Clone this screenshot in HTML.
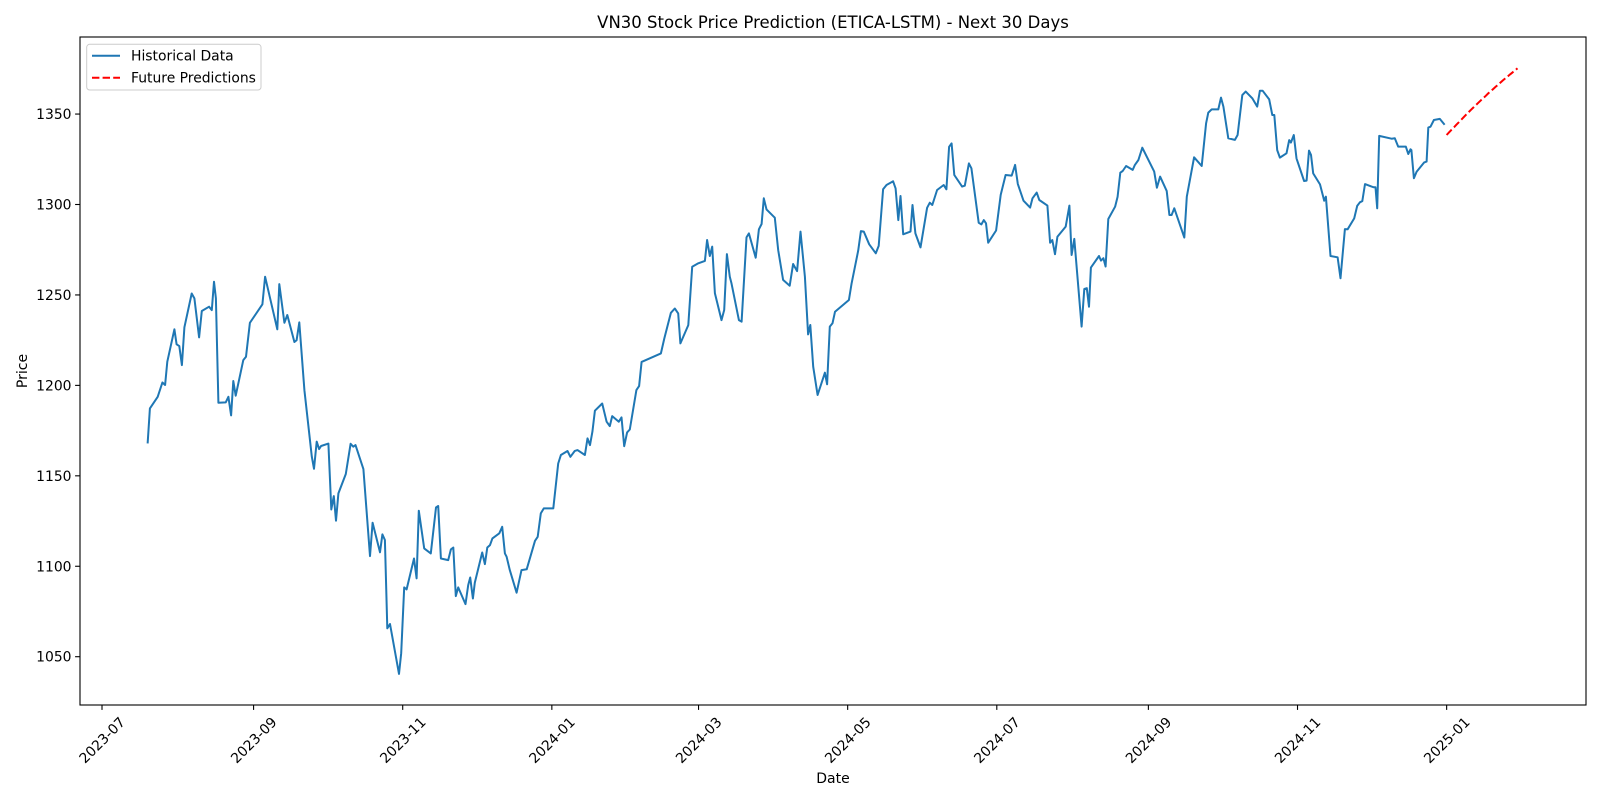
<!DOCTYPE html>
<html><head><meta charset="utf-8"><title>VN30 Stock Price Prediction</title>
<style>
html,body{margin:0;padding:0;background:#fff;}
svg{display:block;font-family:"DejaVu Sans","Liberation Sans",sans-serif;}
</style></head>
<body>
<svg id="chart" width="1600" height="800" viewBox="0 0 1600 800" xmlns="http://www.w3.org/2000/svg">
  <rect x="0" y="0" width="1600" height="800" fill="#fff"/>
  <text x="833" y="28" font-size="16.5" text-anchor="middle" fill="#000">VN30 Stock Price Prediction (ETICA-LSTM) - Next 30 Days</text>
  <g id="plot"></g>
  <rect x="80" y="37" width="1506" height="668" fill="none" stroke="#000" stroke-width="1.1"/>
  <text x="833" y="783" font-size="14" text-anchor="middle">Date</text>
  <text x="27" y="371" font-size="14" text-anchor="middle" transform="rotate(-90 27 371)">Price</text>
  <g>
    <rect x="86.7" y="44.3" width="174.3" height="45.7" rx="3" fill="#fff" fill-opacity="0.8" stroke="#ccc" stroke-width="1"/>
    <line x1="92" y1="55.7" x2="120" y2="55.7" stroke="#1f77b4" stroke-width="2"/>
    <text x="131" y="60.5" font-size="13.9">Historical Data</text>
    <line x1="92" y1="77.7" x2="120" y2="77.7" stroke="#ff0000" stroke-width="2" stroke-dasharray="7.4,3.2"/>
    <text x="131" y="82.5" font-size="13.9">Future Predictions</text>
  </g>
</svg>
<script>
// Days since 2023-07-01
const histDays = [18.7,19.6,22.8,24.7,25.8,26.7,29.6,30.5,31.6,32.7,33.7,36.7,37.8,39.7,40.8,43.8,44.9,45.8,46.6,47.6,50.6,51.7,52.8,53.7,54.7,57.8,58.9,60.5,65.6,66.7,71.7,72.5,74.6,75.8,78.7,79.6,80.7,82.8,85.8,86.7,87.8,88.8,89.6,92.6,93.8,94.8,95.7,96.7,99.7,101.7,102.8,103.7,106.9,109.6,110.7,113.7,114.7,115.7,116.7,117.8,121.5,122.4,123.6,124.6,127.6,128.7,129.6,131.8,134.5,136.6,137.5,138.6,141.6,142.7,143.7,144.7,145.7,148.7,149.8,150.6,151.7,152.5,155.5,156.6,157.6,158.7,159.7,162.5,163.7,164.8,165.5,166.8,169.6,171.6,173.7,177.1,178.2,179.5,180.7,184.6,186.6,187.7,190.4,191.6,193.4,194.5,197.5,198.6,199.6,200.6,201.6,204.6,206.4,207.7,208.7,211.4,212.5,213.6,214.8,215.9,218.6,219.7,220.7,228.6,230.0,232.7,234.3,235.7,236.6,239.8,241.4,243.9,246.6,247.5,248.6,249.6,250.7,253.4,254.5,255.6,256.8,257.5,260.5,261.6,263.6,264.6,267.4,268.7,269.8,270.7,271.8,275.2,276.6,278.6,281.3,282.7,284.3,285.7,287.5,288.8,289.7,290.9,292.7,295.7,296.6,297.7,298.8,299.8,305.5,306.6,309.3,310.4,311.6,313.8,316.5,317.7,319.5,320.9,323.6,324.6,325.7,326.6,327.7,330.7,331.5,332.7,334.8,337.5,338.6,339.6,341.6,344.3,345.4,346.5,347.5,348.6,351.8,352.9,354.6,355.6,358.6,359.7,360.7,361.6,362.5,365.7,367.6,369.6,372.1,373.5,374.6,376.9,379.6,380.6,382.3,383.4,386.7,387.8,388.7,389.8,390.8,394.2,395.7,396.6,397.7,400.7,401.8,402.8,403.7,404.5,407.8,408.6,409.6,410.5,411.6,414.4,415.4,416.5,417.5,418.9,421.6,422.5,423.9,425.5,430.4,431.5,432.8,435.5,436.6,437.5,438.6,442.7,443.7,446.7,449.8,451.6,452.5,453.9,456.6,457.7,458.7,460.7,463.4,464.5,466.4,467.8,470.5,472.5,473.6,474.7,477.4,478.7,479.5,480.7,481.8,484.5,485.6,486.3,487.5,488.6,491.7,492.7,493.7,494.5,495.4,498.2,499.5,499.9,500.6,502.5,505.4,506.6,508.4,509.5,512.2,513.4,514.5,515.5,516.6,519.3,520.2,520.9,521.6,522.4,527.5,528.8,530.2,533.3,534.3,535.2,535.6,536.6,537.7,540.8,541.8,542.5,543.4,544.8,547.2,548.9];
const histPrices = [1168.5,1187.3,1193.7,1201.6,1200.2,1213.1,1231.0,1222.7,1221.7,1211.2,1232.1,1250.8,1248.1,1226.5,1241.1,1243.5,1241.6,1257.3,1248.1,1190.4,1190.6,1193.7,1183.4,1202.4,1194.3,1214.0,1215.8,1234.6,1244.8,1260.1,1231.0,1256.0,1234.6,1238.9,1224.0,1225.0,1234.8,1197.4,1160.6,1153.9,1168.9,1164.8,1166.5,1167.8,1131.4,1138.8,1125.2,1140.3,1151.0,1167.7,1166.1,1167.0,1153.7,1105.6,1124.1,1107.7,1117.6,1114.5,1065.7,1068.1,1040.5,1052.0,1088.3,1087.2,1104.3,1093.3,1130.7,1109.9,1107.1,1132.5,1133.3,1104.3,1103.4,1109.3,1110.4,1083.5,1088.3,1079.1,1089.6,1093.8,1082.2,1090.9,1107.6,1101.2,1110.4,1111.7,1115.4,1118.2,1121.8,1107.1,1105.3,1097.9,1085.4,1097.9,1098.3,1114.1,1116.3,1129.2,1132.0,1132.0,1156.8,1161.5,1163.7,1160.5,1163.8,1164.2,1161.5,1170.7,1167.0,1174.4,1186.0,1190.0,1179.9,1177.5,1183.0,1179.9,1182.3,1166.4,1174.0,1175.6,1197.4,1199.6,1213.0,1217.7,1225.9,1240.1,1242.5,1239.8,1223.2,1233.3,1265.6,1267.5,1268.8,1280.4,1271.5,1276.7,1250.9,1236.1,1241.7,1272.6,1260.1,1256.4,1236.1,1235.2,1281.8,1284.0,1270.6,1286.3,1289.2,1303.4,1297.3,1292.7,1274.8,1258.3,1255.1,1267.1,1263.2,1285.0,1260.1,1228.2,1233.4,1210.3,1194.7,1207.0,1200.6,1232.5,1234.3,1240.7,1247.2,1256.4,1274.5,1285.3,1285.0,1278.0,1273.0,1277.1,1308.4,1310.8,1312.8,1308.9,1291.4,1304.7,1283.5,1285.0,1299.7,1284.0,1276.3,1298.2,1301.0,1299.7,1308.0,1310.8,1308.4,1331.9,1333.8,1316.3,1309.9,1310.4,1322.7,1320.0,1289.9,1289.0,1291.4,1289.6,1278.9,1285.6,1305.3,1316.3,1316.0,1321.9,1311.4,1302.1,1298.3,1303.4,1306.6,1302.5,1299.4,1278.9,1280.4,1272.5,1282.2,1287.8,1299.4,1272.1,1281.0,1232.5,1253.3,1253.7,1243.5,1265.1,1271.5,1269.0,1270.3,1265.7,1292.0,1298.8,1304.3,1317.6,1318.5,1321.3,1319.1,1321.9,1324.6,1331.4,1318.2,1309.3,1315.4,1307.5,1294.2,1294.2,1297.9,1281.7,1304.3,1326.1,1321.3,1344.9,1350.8,1352.6,1352.6,1359.1,1354.1,1336.6,1335.7,1338.4,1360.5,1362.4,1358.7,1354.1,1362.9,1362.9,1358.1,1349.5,1349.5,1330.1,1325.9,1328.3,1335.6,1334.2,1338.4,1325.5,1313.0,1313.2,1329.8,1327.4,1317.2,1311.1,1304.3,1302.1,1304.3,1271.5,1270.8,1259.2,1286.4,1286.3,1292.3,1299.2,1301.2,1301.9,1311.3,1309.9,1309.5,1309.5,1297.9,1337.9,1336.4,1336.6,1332.0,1332.0,1327.9,1330.5,1330.1,1314.5,1318.1,1323.3,1323.7,1342.5,1343.0,1346.7,1347.3,1344.5];
const predDays = [550,551,552,553,554,555,556,557,558,559,560,561,562,563,564,565,566,567,568,569,570,571,572,573,574,575,576,577,578,579];
const predPrices = [1338.4,1339.9,1341.3,1342.7,1344.1,1345.5,1346.9,1348.3,1349.7,1351.0,1352.4,1353.7,1355.0,1356.3,1357.6,1358.8,1360.1,1361.4,1362.6,1363.8,1365.0,1366.2,1367.4,1368.6,1369.7,1370.8,1372.0,1373.1,1374.2,1375.3];
const yTicks = [1050,1100,1150,1200,1250,1300,1350];
const xTickDays = [0,62,123,184,244,305,366,428,489,550];
const xTickLabels = ["2023-07","2023-09","2023-11","2024-01","2024-03","2024-05","2024-07","2024-09","2024-11","2025-01"];

const NS = "http://www.w3.org/2000/svg";
const L = 80, R = 1586, T = 37, B = 705;
const xMin = -9.0, xMax = 607.0, yMin = 1023.3, yMax = 1392.6;
function xs(d){ return L + (d - xMin) / (xMax - xMin) * (R - L); }
function ys(v){ return B - (v - yMin) / (yMax - yMin) * (B - T); }

const svg = document.getElementById('chart');
const plot = document.getElementById('plot');
function mk(tag, attrs){ const e = document.createElementNS(NS, tag); for (const k in attrs) e.setAttribute(k, attrs[k]); return e; }

yTicks.forEach(v => {
  const y = ys(v);
  const t = mk('line', {x1: L-4.9, x2: L, y1: y, y2: y, stroke: '#000', 'stroke-width': 1.1});
  
  
  svg.appendChild(t);
  const lb = mk('text', {x: L-8.5, y: y+5, 'font-size': 13.9, 'text-anchor': 'end'});
  lb.textContent = String(v);
  
  
  svg.appendChild(lb);
});

xTickDays.forEach((d, i) => {
  const x = xs(d);
  const t = mk('line', {x1: x, x2: x, y1: B, y2: B+4.9, stroke: '#000', 'stroke-width': 1.1});
  
  
  svg.appendChild(t);
  const cy = 740;
  const lb = mk('text', {x: x, y: cy+5, 'font-size': 13.9, 'text-anchor': 'middle', transform: 'rotate(-45 ' + x + ' ' + cy + ')'});
  lb.textContent = xTickLabels[i];
  
  
  svg.appendChild(lb);
});

const hp = histDays.map((d, i) => xs(d).toFixed(1) + ',' + ys(histPrices[i]).toFixed(1)).join(' ');
const hl = mk('polyline', {points: hp, fill: 'none', stroke: '#1f77b4', 'stroke-width': 2, 'stroke-linejoin': 'round', 'stroke-linecap': 'square'});


plot.appendChild(hl);

const pp = predDays.map((d, i) => xs(d).toFixed(1) + ',' + ys(predPrices[i]).toFixed(1)).join(' ');
const pl = mk('polyline', {points: pp, fill: 'none', stroke: '#ff0000', 'stroke-width': 2, 'stroke-dasharray': '7.4,3.2'});


plot.appendChild(pl);
</script>
</body></html>
